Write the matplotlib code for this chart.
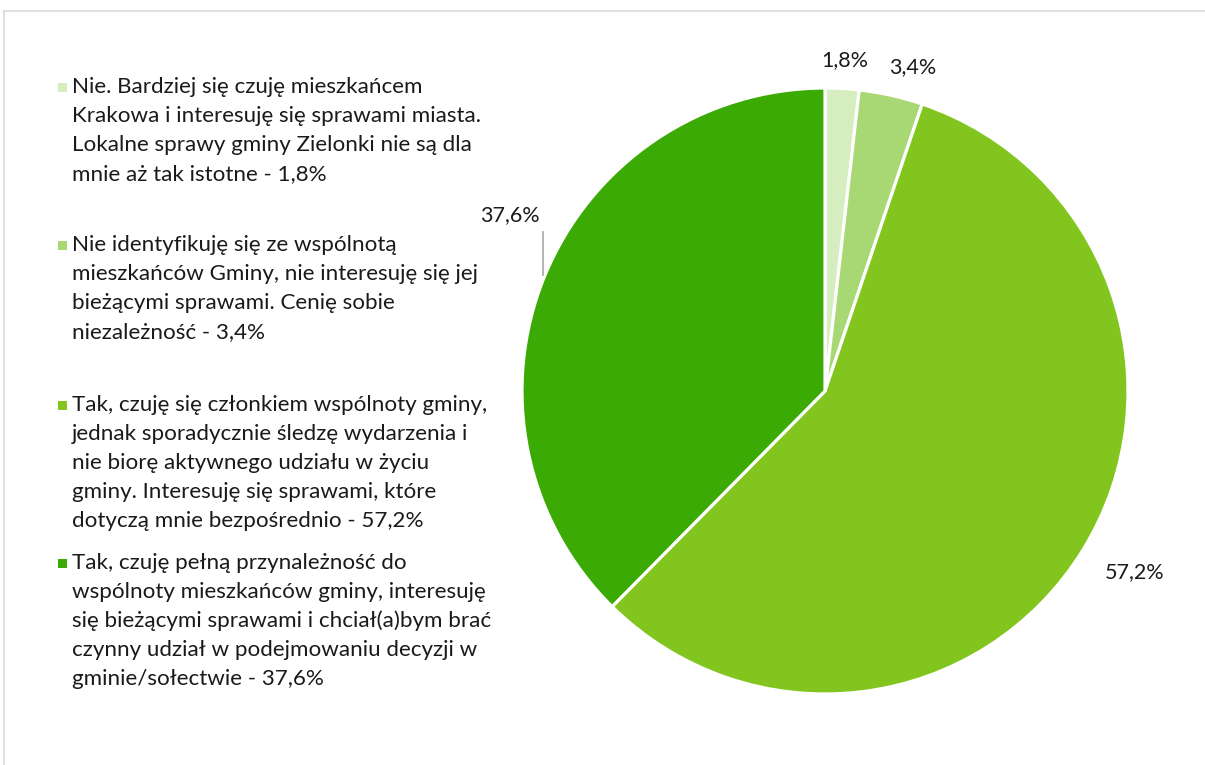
import matplotlib
matplotlib.use("Agg")
import matplotlib.pyplot as plt
from matplotlib.patches import Rectangle
from matplotlib.lines import Line2D

plt.rcParams['font.family'] = ['Lato', 'DejaVu Sans']

categories = [
    "Nie. Bardziej się czuję mieszkańcem\nKrakowa i interesuję się sprawami miasta.\nLokalne sprawy gminy Zielonki nie są dla\nmnie aż tak istotne - 1,8%",
    "Nie identyfikuję się ze wspólnotą\nmieszkańców Gminy, nie interesuję się jej\nbieżącymi sprawami. Cenię sobie\nniezależność - 3,4%",
    "Tak, czuję się członkiem wspólnoty gminy,\njednak sporadycznie śledzę wydarzenia i\nnie biorę aktywnego udziału w życiu\ngminy. Interesuję się sprawami, które\ndotyczą mnie bezpośrednio - 57,2%",
    "Tak, czuję pełną przynależność do\nwspólnoty mieszkańców gminy, interesuję\nsię bieżącymi sprawami i chciał(a)bym brać\nczynny udział w podejmowaniu decyzji w\ngminie/sołectwie - 37,6%",
]
values = [1.8, 3.4, 57.2, 37.6]
value_labels = ["1,8%", "3,4%", "57,2%", "37,6%"]
colors = ["#d5edbf", "#a8d873", "#82c51e", "#3caa05"]

W, H = 1205, 765
fig = plt.figure(figsize=(W / 100, H / 100), dpi=100)

def px(x, y):
    return x / W, 1 - y / H

# border
fig.add_artist(Line2D([4 / W, 4 / W], [0, 1 - 11 / H], color="#d9d9d9", lw=1.2, transform=fig.transFigure))
fig.add_artist(Line2D([4 / W, 1], [1 - 11 / H, 1 - 11 / H], color="#d9d9d9", lw=1.2, transform=fig.transFigure))

# pie
cx, cy, r = 825, 391, 303
ax = fig.add_axes([(cx - r) / W, (H - cy - r) / H, 2 * r / W, 2 * r / H])
ax.pie(values, colors=colors, startangle=90, counterclock=False, radius=1,
       wedgeprops=dict(edgecolor="white", linewidth=2.3))
ax.set_xlim(-1, 1)
ax.set_ylim(-1, 1)
ax.set_aspect("equal")
ax.axis("off")

label_pos = [(0.066, 1.092), (0.29, 1.069), (1.023, -0.597), (-1.04, 0.58)]
for (lx, ly), t in zip(label_pos, value_labels):
    ax.text(lx, ly, t, ha="center", va="center", fontsize=15.5, color="#1a1a1a", clip_on=False)
ax.add_line(Line2D([-0.93, -0.93], [0.525, 0.383], color="#a6a6a6", lw=1.2, clip_on=False))

# legend
starts = [87, 245, 405, 563]
line_h = 29
for y0, cat, col in zip(starts, categories, colors):
    fx, fy = px(58, y0 + 4.5)
    fig.add_artist(Rectangle((fx, fy), 9 / W, 9 / H, facecolor=col, edgecolor="none", transform=fig.transFigure))
    for i, line in enumerate(cat.split("\n")):
        tx, ty = px(72, y0 + i * line_h)
        fig.text(tx, ty, line, ha="left", va="center", fontsize=16.1, color="#1a1a1a")

fig.savefig("out.png", dpi=100)
